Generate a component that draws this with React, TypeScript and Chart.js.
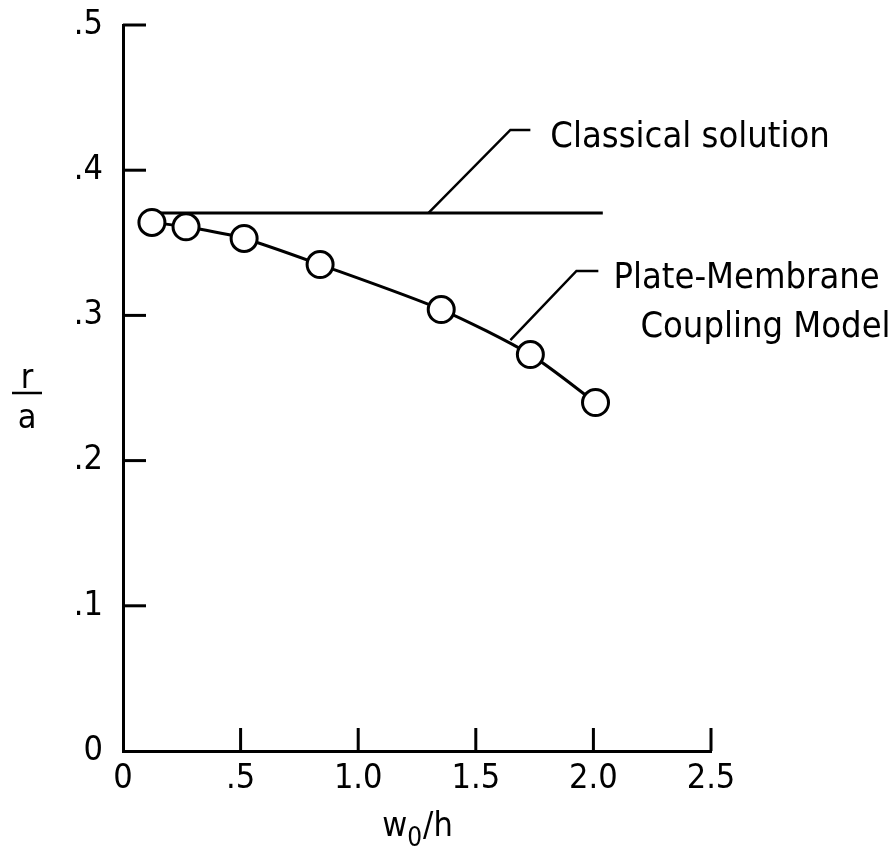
import React, { useEffect, useRef } from "react";
import { Chart, registerables } from "chart.js";

Chart.register(...registerables);

// Data
const modelX = [0.123, 0.268, 0.515, 0.838, 1.353, 1.732, 2.009];
const modelY = [0.364, 0.361, 0.353, 0.335, 0.304, 0.273, 0.24];
const classicalX = [0.13, 2.04];
const classicalY = [0.3705, 0.3705];

const xTickValues = [0, 0.5, 1.0, 1.5, 2.0, 2.5];
const xTickLabels = ["0", ".5", "1.0", "1.5", "2.0", "2.5"];
const yTickValues = [0, 0.1, 0.2, 0.3, 0.4, 0.5];
const yTickLabels = ["0", ".1", ".2", ".3", ".4", ".5"];

// Annotation leaders (data coordinates)
const classicalLeaderX = [1.298, 1.647, 1.732];
const classicalLeaderY = [0.3705, 0.4277, 0.4277];
const modelLeaderX = [1.647, 1.928, 2.021];
const modelLeaderY = [0.283, 0.3306, 0.3306];
const annotationTexts = ["Classical solution", "Plate-Membrane", "Coupling Model"];
const annotationX = [1.817, 2.085, 2.2];
const annotationY = [0.416, 0.3189, 0.285];

const FONT = '"Liberation Sans Narrow", "DejaVu Sans Condensed", "Roboto", sans-serif';

export default function App() {
  const ref = useRef<HTMLCanvasElement>(null);

  useEffect(() => {
    document.body.style.margin = "0";
    const canvas = ref.current;
    if (!canvas) return;

    const decor = {
      id: "decor",
      afterDraw(chart: any) {
        const ctx = chart.ctx;
        const xs = chart.scales.x;
        const ys = chart.scales.y;
        const area = chart.chartArea;
        ctx.save();
        ctx.strokeStyle = "#000";
        ctx.fillStyle = "#000";
        ctx.lineWidth = 3;
        ctx.lineCap = "butt";
        // inward ticks
        xTickValues.forEach((v) => {
          if (v === 0) return;
          const px = xs.getPixelForValue(v);
          ctx.beginPath();
          ctx.moveTo(px, area.bottom);
          ctx.lineTo(px, area.bottom - 23);
          ctx.stroke();
        });
        yTickValues.forEach((v) => {
          if (v === 0) return;
          const py = ys.getPixelForValue(v);
          ctx.beginPath();
          ctx.moveTo(area.left, py);
          ctx.lineTo(area.left + 23, py);
          ctx.stroke();
        });
        // leaders
        ctx.lineWidth = 2.5;
        [
          [classicalLeaderX, classicalLeaderY],
          [modelLeaderX, modelLeaderY],
        ].forEach(([lx, ly]) => {
          ctx.beginPath();
          lx.forEach((x, i) => {
            const px = xs.getPixelForValue(x);
            const py = ys.getPixelForValue(ly[i]);
            if (i === 0) ctx.moveTo(px, py);
            else ctx.lineTo(px, py);
          });
          ctx.stroke();
        });
        // annotation texts
        ctx.font = `36px ${FONT}`;
        ctx.textAlign = "left";
        ctx.textBaseline = "alphabetic";
        annotationTexts.forEach((t, i) => {
          ctx.fillText(t, xs.getPixelForValue(annotationX[i]), ys.getPixelForValue(annotationY[i]));
        });
        // y title r / a
        ctx.textAlign = "center";
        ctx.font = `34px ${FONT}`;
        ctx.fillText("r", 27, 388);
        ctx.fillText("a", 27, 428);
        ctx.lineWidth = 2.5;
        ctx.beginPath();
        ctx.moveTo(12, 393);
        ctx.lineTo(42, 393);
        ctx.stroke();
        // x title w0/h
        ctx.textAlign = "left";
        const cx = (area.left + area.right) / 2;
        ctx.font = `34px ${FONT}`;
        const wW = ctx.measureText("w").width;
        ctx.font = `26px ${FONT}`;
        const zW = ctx.measureText("0").width;
        ctx.font = `34px ${FONT}`;
        const hW = ctx.measureText("/h").width;
        const total = wW + zW + hW;
        const x0 = cx - total / 2;
        const base = 836;
        ctx.fillText("w", x0, base);
        ctx.font = `26px ${FONT}`;
        ctx.fillText("0", x0 + wW, base + 10);
        ctx.font = `34px ${FONT}`;
        ctx.fillText("/h", x0 + wW + zW + 1, base);
        ctx.restore();
      },
    };

    const chart = new Chart(canvas, {
      type: "line",
      data: {
        datasets: [
          {
            label: "Plate-Membrane Coupling Model",
            data: modelX.map((x, i) => ({ x, y: modelY[i] })),
            borderColor: "#000",
            borderWidth: 3,
            backgroundColor: "#fff",
            pointRadius: 13,
            pointBorderWidth: 3,
            pointBackgroundColor: "#fff",
            pointBorderColor: "#000",
            tension: 0.25,
            fill: false,
          },
          {
            label: "Classical solution",
            data: classicalX.map((x, i) => ({ x, y: classicalY[i] })),
            borderColor: "#000",
            borderWidth: 3,
            pointRadius: 0,
            fill: false,
          },
        ],
      },
      options: {
        animation: false,
        responsive: true,
        maintainAspectRatio: false,
        events: [],
        layout: { padding: { top: 25, right: 182, left: 0, bottom: 0 } },
        plugins: { legend: { display: false }, tooltip: { enabled: false } },
        scales: {
          x: {
            type: "linear",
            min: 0,
            max: 2.5,
            afterBuildTicks: (s: any) => {
              s.ticks = xTickValues.map((v) => ({ value: v }));
            },
            afterFit: (s: any) => {
              s.height = 105;
              s.paddingLeft = 0;
              s.paddingRight = 0;
            },
            grid: { display: false, drawTicks: false },
            border: { display: true, color: "#000", width: 3 },
            ticks: {
              color: "#000",
              padding: 8,
              maxRotation: 0,
              autoSkip: false,
              font: { family: FONT, size: 34 },
              callback: (v: any) => {
                const i = xTickValues.findIndex((t) => Math.abs(t - Number(v)) < 1e-6);
                return i >= 0 ? xTickLabels[i] : "";
              },
            },
          },
          y: {
            type: "linear",
            min: 0,
            max: 0.5,
            afterBuildTicks: (s: any) => {
              s.ticks = yTickValues.map((v) => ({ value: v }));
            },
            afterFit: (s: any) => {
              s.width = 123;
              s.paddingTop = 0;
              s.paddingBottom = 0;
            },
            grid: { display: false, drawTicks: false },
            border: { display: true, color: "#000", width: 3 },
            ticks: {
              color: "#000",
              padding: 20,
              autoSkip: false,
              font: { family: FONT, size: 34 },
              callback: (v: any) => {
                const i = yTickValues.findIndex((t) => Math.abs(t - Number(v)) < 1e-6);
                return i >= 0 ? yTickLabels[i] : "";
              },
            },
          },
        },
      },
      plugins: [decor],
    });
    return () => chart.destroy();
  }, []);

  return (
    <div style={{ position: "absolute", left: 0, top: 0, width: 893, height: 856, background: "#fff" }}>
      <canvas ref={ref} />
    </div>
  );
}
